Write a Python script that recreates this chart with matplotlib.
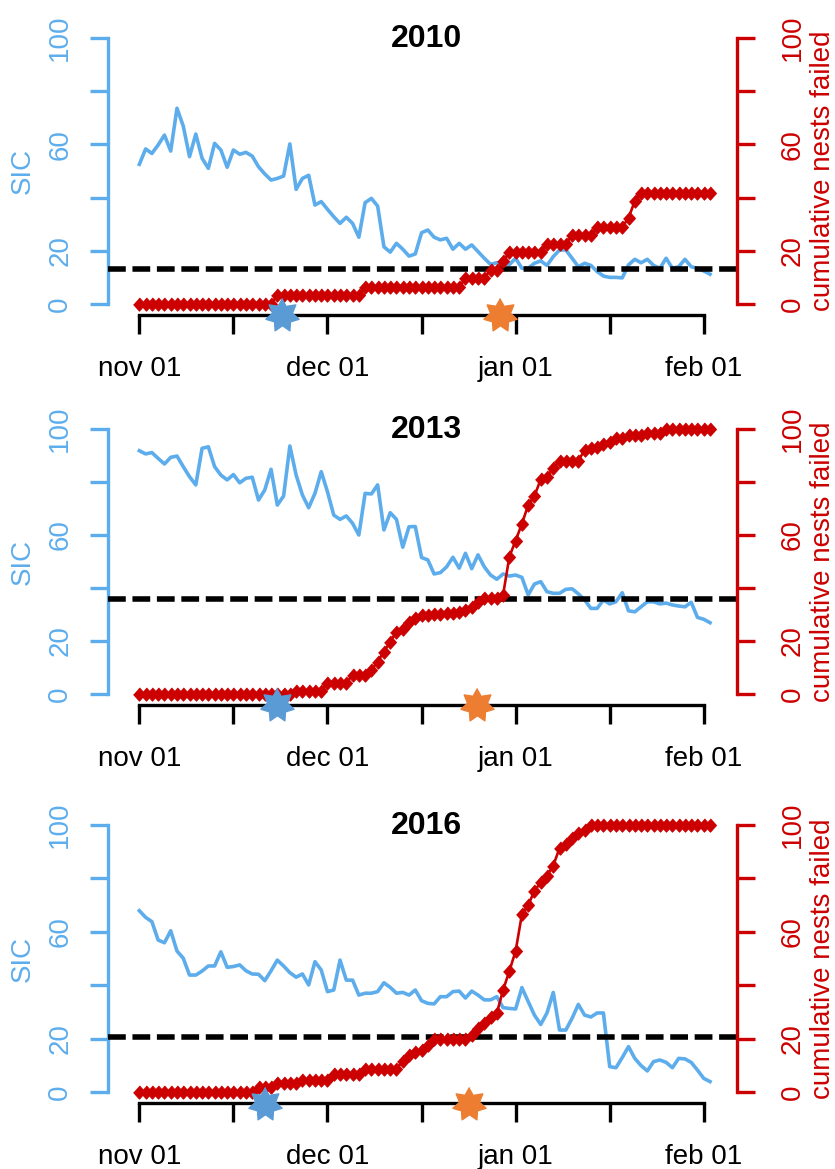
import numpy as np
import matplotlib
matplotlib.use("Agg")
import matplotlib.pyplot as plt
from matplotlib.transforms import blended_transform_factory

plt.rcParams['font.family'] = ['Liberation Sans', 'DejaVu Sans']

# dias desde 1 de novembro (0 = nov 01)
days = list(range(92))
tick_pos = [0, 15, 30, 45, 60, 75, 90]
tick_lab = ['nov 01', '', 'dec 01', '', 'jan 01', '', 'feb 01']
ytick_pos = [0, 20, 40, 60, 80, 100]
ytick_lab = ['0', '20', '', '60', '', '100']

years = ['2010', '2013', '2016']

sic_2010 = [52.5, 58.3, 56.6, 59.8, 63.5, 57.5, 73.6, 66.9, 55.4, 63.9,
            54.8, 51.0, 60.4, 57.9, 51.4, 57.9, 56.3, 57.0, 55.6, 51.6,
            48.9, 46.6, 47.2, 48.1, 60.2, 43.1, 47.2, 48.4, 37.2, 38.5,
            35.6, 32.8, 30.3, 32.6, 30.3, 25.1, 38.1, 39.7, 36.8, 21.5,
            19.5, 22.8, 20.6, 18.0, 18.8, 26.8, 27.8, 25.1, 24.1, 24.7,
            20.6, 22.8, 20.6, 22.2, 19.7, 17.2, 14.9, 15.5, 15.5, 14.8,
            17.2, 13.4, 13.4, 15.3, 16.2, 14.5, 17.8, 20.3, 20.3, 17.2,
            14.0, 15.3, 14.5, 12.2, 10.5, 10.0, 10.0, 9.8, 14.7, 16.8,
            15.5, 16.8, 14.5, 13.4, 17.2, 13.4, 14.0, 16.8, 14.0, 13.4,
            12.4, 11.2]
failed_2010 = [0, 0, 0, 0, 0, 0, 0, 0, 0, 0,
               0, 0, 0, 0, 0, 0, 0, 0, 0, 0,
               0, 0, 3.2, 3.2, 3.2, 3.2, 3.2, 3.2, 3.2, 3.2,
               3.2, 3.2, 3.2, 3.2, 3.2, 3.2, 6.5, 6.5, 6.5, 6.5,
               6.5, 6.5, 6.5, 6.5, 6.5, 6.5, 6.5, 6.5, 6.5, 6.5,
               6.5, 6.5, 9.7, 9.7, 9.7, 9.7, 12.9, 12.9, 16.1, 19.4,
               19.4, 19.4, 19.4, 19.4, 19.4, 22.6, 22.6, 22.6, 22.6, 25.8,
               25.8, 25.8, 25.8, 29.0, 29.0, 29.0, 29.0, 29.0, 32.3, 38.7,
               41.9, 41.9, 41.9, 41.9, 41.9, 41.9, 41.9, 41.9, 41.9, 41.9,
               41.9, 41.9]

sic_2013 = [91.8, 90.6, 91.1, 88.9, 86.8, 89.3, 89.8, 85.8, 82.0, 78.9,
            92.7, 93.3, 85.8, 82.6, 80.8, 82.8, 79.7, 81.4, 81.8, 73.2,
            77.0, 84.8, 71.3, 74.7, 93.6, 82.6, 75.1, 70.3, 75.7, 83.9,
            76.3, 67.5, 65.9, 67.2, 64.4, 60.0, 75.7, 75.5, 78.9, 61.9,
            68.4, 65.9, 55.4, 63.1, 63.2, 51.5, 50.6, 45.3, 45.8, 48.0,
            51.6, 47.5, 53.1, 47.3, 52.5, 48.0, 44.9, 43.3, 45.3, 44.5,
            44.9, 44.0, 37.4, 41.5, 42.4, 38.6, 38.0, 38.0, 39.5, 39.7,
            37.8, 35.5, 32.3, 32.3, 35.5, 34.0, 34.8, 38.2, 31.4, 31.0,
            32.9, 34.8, 34.8, 34.0, 34.3, 33.6, 33.2, 32.9, 34.6, 28.9,
            28.2, 26.9]
failed_2013 = [0, 0, 0, 0, 0, 0, 0, 0, 0, 0,
               0, 0, 0, 0, 0, 0, 0, 0, 0, 0,
               0, 0, 0, 0, 0, 1.3, 1.3, 1.3, 1.3, 1.3,
               4.3, 4.3, 4.3, 4.3, 7.2, 7.2, 7.2, 9.1, 12.2, 16.0,
               19.7, 23.5, 24.5, 27.3, 28.6, 29.8, 29.8, 30.1, 30.1, 30.4,
               30.7, 31.0, 31.7, 33.0, 34.8, 36.1, 36.1, 36.1, 37.4, 51.8,
               57.9, 64.2, 71.3, 74.7, 81.0, 82.0, 85.2, 88.0, 88.0, 88.0,
               88.0, 92.1, 93.0, 93.3, 94.3, 95.2, 96.5, 96.5, 97.7, 97.7,
               97.7, 98.6, 98.6, 98.6, 100, 100, 100, 100, 100, 100,
               100, 100]

sic_2016 = [67.9, 65.4, 63.8, 56.9, 55.9, 60.4, 52.8, 50.1, 43.8, 43.8,
            45.3, 47.2, 47.2, 52.5, 46.7, 47.0, 47.6, 45.4, 44.2, 44.1,
            41.7, 45.4, 49.4, 47.2, 44.7, 43.0, 44.2, 40.1, 48.8, 45.7,
            37.6, 38.2, 49.4, 41.9, 41.9, 36.3, 37.0, 37.0, 37.6, 40.9,
            39.2, 37.0, 37.3, 36.3, 38.2, 34.2, 33.2, 33.0, 35.7, 35.7,
            37.6, 37.8, 35.2, 37.8, 36.3, 34.5, 34.5, 35.7, 31.6, 31.3,
            31.1, 39.1, 33.9, 28.8, 25.3, 29.6, 37.3, 23.2, 23.2, 27.6,
            32.8, 28.8, 28.1, 29.6, 29.6, 9.5, 9.1, 12.9, 17.0, 12.6,
            9.9, 7.9, 11.4, 12.0, 11.1, 9.1, 12.6, 12.4, 11.1, 8.2,
            5.1, 3.9]
failed_2016 = [0, 0, 0, 0, 0, 0, 0, 0, 0, 0,
               0, 0, 0, 0, 0, 0, 0, 0, 0, 1.8,
               1.8, 1.8, 3.2, 3.2, 3.2, 3.2, 4.5, 4.5, 4.5, 4.5,
               4.5, 6.7, 6.7, 6.7, 6.7, 6.7, 8.7, 8.7, 8.7, 8.7,
               8.7, 8.7, 11.5, 14.0, 15.0, 15.7, 17.6, 20.0, 20.0, 20.0,
               20.0, 20.0, 20.0, 21.3, 23.8, 25.7, 28.2, 29.5, 38.2, 45.3,
               52.8, 66.5, 70.0, 75.3, 78.5, 81.0, 84.8, 91.3, 92.8, 95.0,
               96.9, 98.1, 100, 100, 100, 100, 100, 100, 100, 100,
               100, 100, 100, 100, 100, 100, 100, 100, 100, 100,
               100, 100]

sic = [sic_2010, sic_2013, sic_2016]
failed = [failed_2010, failed_2013, failed_2016]
threshold = [13.0, 35.8, 20.7]
star_blue = [22.7, 21.9, 20.0]
star_orange = [57.5, 53.8, 52.6]

blue = '#5DADEC'
red = '#CC0000'

W, H = 835, 1169
# posicao dos paineis em pixels (topo, base)
panel_px = [(27.4, 314.6), (418.4, 704.6), (814.3, 1102.7)]
x_left, x_right = 108, 737

# estrela de 7 pontas e losango
ang = np.pi / 2 + np.arange(14) * np.pi / 7
rad = np.where(np.arange(14) % 2 == 0, 1.0, 0.6)
star = list(zip(rad * np.cos(ang), rad * np.sin(ang)))
diamond = [(0, 1), (0.9, 0), (0, -1), (-0.9, 0)]

fig = plt.figure(figsize=(W / 100, H / 100), dpi=100)

for i in range(3):
    top, bot = panel_px[i]
    rect = [x_left / W, 1 - bot / H, (x_right - x_left) / W, (bot - top) / H]
    ax = fig.add_axes(rect)
    ax.set_xlim(-5, 95.3)
    ax.set_ylim(-4, 104)
    ax.plot(days, sic[i], color=blue, lw=2.6, zorder=3)
    ax.axhline(threshold[i], color='black', lw=4, ls=(0, (3.2, 1.2)), zorder=4)

    for s in ['top', 'right']:
        ax.spines[s].set_visible(False)
    ax.spines['left'].set_bounds(0, 100)
    ax.spines['left'].set_color(blue)
    ax.spines['left'].set_linewidth(2.4)
    ax.spines['bottom'].set_bounds(0, 90)
    ax.spines['bottom'].set_linewidth(2.4)

    ax.set_xticks(tick_pos, labels=tick_lab)
    ax.tick_params(axis='x', length=13.7, width=2.4, pad=16, labelsize=20)
    ax.set_yticks(ytick_pos, labels=ytick_lab)
    ax.tick_params(axis='y', length=12.7, width=2.4, pad=12.3, labelsize=20,
                   colors=blue)
    for lab in ax.get_yticklabels():
        lab.set_rotation(90)
        lab.set_verticalalignment('center')

    tr = blended_transform_factory(ax.transAxes, ax.transData)
    ax.text((22.5 - x_left) / (x_right - x_left), 50, 'SIC', transform=tr,
            rotation=90, ha='center', va='center', fontsize=20, color=blue)
    ax.text((823 - x_left) / (x_right - x_left), 50, 'cumulative nests failed',
            transform=tr, rotation=90, ha='center', va='center', fontsize=20,
            color=red)
    ax.text(0.507, 0.932, years[i], transform=ax.transAxes, ha='center',
            va='baseline', fontsize=23, fontweight='bold')

    # eixo da direita: ninhos falhados
    ax2 = ax.twinx()
    ax2.set_ylim(-4, 104)
    ax2.plot(days, failed[i], color=red, lw=1.9, marker=diamond, ms=9.5,
             mew=0.8, zorder=4)
    for s in ['top', 'left', 'bottom']:
        ax2.spines[s].set_visible(False)
    ax2.spines['right'].set_bounds(0, 100)
    ax2.spines['right'].set_color(red)
    ax2.spines['right'].set_linewidth(2.4)
    ax2.set_yticks(ytick_pos, labels=ytick_lab)
    ax2.tick_params(axis='y', length=12.7, width=2.4, pad=18, labelsize=20,
                    colors=red)
    for lab in ax2.get_yticklabels():
        lab.set_rotation(90)
        lab.set_verticalalignment('center')

    ax2.plot(star_blue[i], -4.3, marker=star, ms=24.5, color='#5B9BD5',
             clip_on=False, zorder=6, ls='none')
    ax2.plot(star_orange[i], -4.3, marker=star, ms=24.5, color='#ED7D31',
             clip_on=False, zorder=6, ls='none')

fig.savefig('out.png', dpi=100)
